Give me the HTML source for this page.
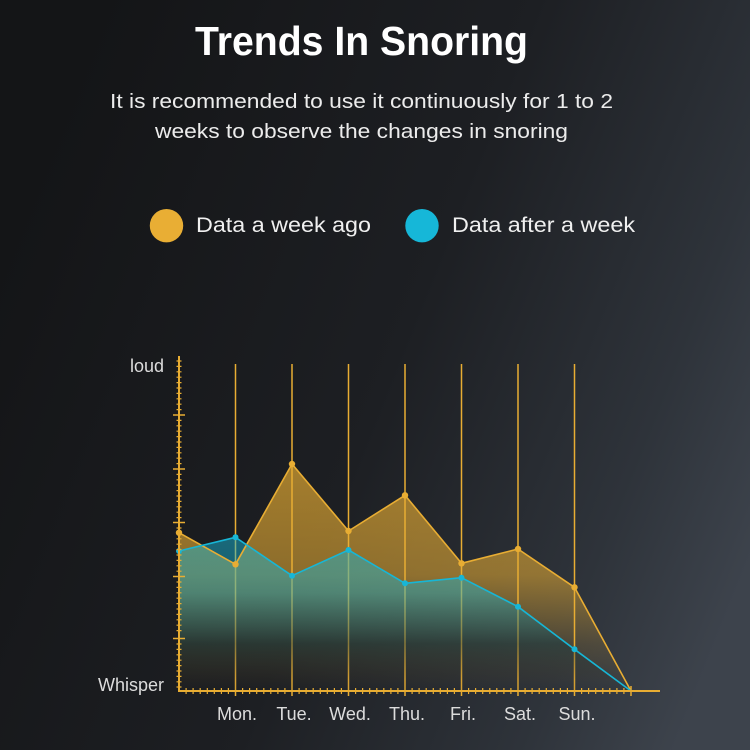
<!DOCTYPE html>
<html>
<head>
<meta charset="utf-8">
<style>
html,body{margin:0;padding:0;background:#1a1b1e;}
svg{display:block;}
text{font-family:"Liberation Sans",sans-serif;}
</style>
</head>
<body>
<svg width="750" height="750" viewBox="0 0 750 750" xmlns="http://www.w3.org/2000/svg">
<defs>
  <linearGradient id="bg" x1="0" y1="0.35" x2="1" y2="0.75">
    <stop offset="0" stop-color="#141517"/>
    <stop offset="0.5" stop-color="#1d1f23"/>
    <stop offset="0.82" stop-color="#2e333a"/>
    <stop offset="1" stop-color="#3d434c"/>
  </linearGradient>
  <linearGradient id="og" gradientUnits="userSpaceOnUse" x1="0" y1="460" x2="0" y2="690">
    <stop offset="0" stop-color="#e8ad33" stop-opacity="0.68"/>
    <stop offset="0.5" stop-color="#e8ad33" stop-opacity="0.55"/>
    <stop offset="0.8" stop-color="#e8ad33" stop-opacity="0.16"/>
    <stop offset="1" stop-color="#e8ad33" stop-opacity="0"/>
  </linearGradient>
  <linearGradient id="tg" gradientUnits="userSpaceOnUse" x1="0" y1="535" x2="0" y2="680">
    <stop offset="0" stop-color="#17b6d6" stop-opacity="0.5"/>
    <stop offset="0.4" stop-color="#17b6d6" stop-opacity="0.42"/>
    <stop offset="0.75" stop-color="#123a44" stop-opacity="0.45"/>
    <stop offset="1" stop-color="#1e2428" stop-opacity="0.1"/>
  </linearGradient>
</defs>
<rect x="0" y="0" width="750" height="750" fill="url(#bg)"/>

<text x="195" y="55" font-size="41" font-weight="bold" fill="#ffffff" textLength="333" lengthAdjust="spacingAndGlyphs">Trends In Snoring</text>
<text x="110" y="108" font-size="20.5" fill="#ececec" textLength="503" lengthAdjust="spacingAndGlyphs">It is recommended to use it continuously for 1 to 2</text>
<text x="155" y="138" font-size="20.5" fill="#ececec" textLength="413" lengthAdjust="spacingAndGlyphs">weeks to observe the changes in snoring</text>

<circle cx="166.5" cy="225.7" r="16.7" fill="#e9ae34"/>
<text x="196" y="232" font-size="21" fill="#f0f0f0" textLength="175" lengthAdjust="spacingAndGlyphs">Data a week ago</text>
<circle cx="422" cy="225.7" r="16.7" fill="#16b7d8"/>
<text x="452" y="232" font-size="21" fill="#f0f0f0" textLength="183" lengthAdjust="spacingAndGlyphs">Data after a week</text>

<g stroke="#e8ad33" stroke-width="1.5">
  <line x1="235.5" y1="364" x2="235.5" y2="696"/>
  <line x1="292" y1="364" x2="292" y2="696"/>
  <line x1="348.5" y1="364" x2="348.5" y2="696"/>
  <line x1="405" y1="364" x2="405" y2="696"/>
  <line x1="461.5" y1="364" x2="461.5" y2="696"/>
  <line x1="518" y1="364" x2="518" y2="696"/>
  <line x1="574.5" y1="364" x2="574.5" y2="696"/>
  <line x1="631" y1="686" x2="631" y2="696"/>
</g>

<polygon fill="url(#og)" points="179,691 179,532.7 235.5,564.3 292,464 348.5,531 405,495.3 461.5,563.3 518,549 574.5,587.3 631,691"/>
<polygon fill="url(#tg)" points="179,691 179,551 235.5,537.3 292,575.7 348.5,550 405,583.3 461.5,577.7 518,606.7 574.5,649.3 631,691"/>

<polyline fill="none" stroke="#e8ad33" stroke-width="1.6" stroke-linejoin="round" points="179,532.7 235.5,564.3 292,464 348.5,531 405,495.3 461.5,563.3 518,549 574.5,587.3 631,691"/>
<polyline fill="none" stroke="#17b6d6" stroke-width="1.6" stroke-linejoin="round" points="179,551 235.5,537.3 292,575.7 348.5,550 405,583.3 461.5,577.7 518,606.7 574.5,649.3 631,691"/>
<g fill="#e8ad33">
  <circle cx="179" cy="532.7" r="3.2"/>
  <circle cx="235.5" cy="564.3" r="3.2"/>
  <circle cx="292" cy="464" r="3.2"/>
  <circle cx="348.5" cy="531" r="3.2"/>
  <circle cx="405" cy="495.3" r="3.2"/>
  <circle cx="461.5" cy="563.3" r="3.2"/>
  <circle cx="518" cy="549" r="3.2"/>
  <circle cx="574.5" cy="587.3" r="3.2"/>
</g>
<g fill="#17b6d6">
  <circle cx="179" cy="551" r="3"/>
  <circle cx="235.5" cy="537.3" r="3"/>
  <circle cx="292" cy="575.7" r="3"/>
  <circle cx="348.5" cy="550" r="3"/>
  <circle cx="405" cy="583.3" r="3"/>
  <circle cx="461.5" cy="577.7" r="3"/>
  <circle cx="518" cy="606.7" r="3"/>
  <circle cx="574.5" cy="649.3" r="3"/>
</g>

<g stroke="#e8ad33">
  <line x1="179" y1="356" x2="179" y2="692" stroke-width="2"/>
  <line x1="178" y1="691" x2="660" y2="691" stroke-width="2"/>
  <path stroke-width="1.2" d="M176.5 361h5M176.5 366.4h5M176.5 371.8h5M176.5 377.2h5M176.5 382.6h5M176.5 388h5M176.5 393.4h5M176.5 398.8h5M176.5 404.2h5M176.5 409.6h5M176.5 420.4h5M176.5 425.8h5M176.5 431.2h5M176.5 436.6h5M176.5 442h5M176.5 447.4h5M176.5 452.8h5M176.5 458.2h5M176.5 463.6h5M176.5 474.4h5M176.5 479.8h5M176.5 485.2h5M176.5 490.6h5M176.5 496h5M176.5 501.4h5M176.5 506.8h5M176.5 512.2h5M176.5 517.6h5M176.5 528h5M176.5 533.4h5M176.5 538.8h5M176.5 544.2h5M176.5 549.6h5M176.5 555h5M176.5 560.4h5M176.5 565.8h5M176.5 571.2h5M176.5 582h5M176.5 587.4h5M176.5 592.8h5M176.5 598.2h5M176.5 603.6h5M176.5 609h5M176.5 614.4h5M176.5 619.8h5M176.5 625.2h5M176.5 630.6h5M176.5 644h5M176.5 649.4h5M176.5 654.8h5M176.5 660.2h5M176.5 665.6h5M176.5 671h5M176.5 676.4h5M176.5 681.8h5M176.5 687h5"/>
  <path stroke-width="1.5" d="M173 415h12M173 469h12M173 522.5h12M173 576.5h12M173 638.5h12"/>
  <path stroke-width="1.2" d="M186.1 688v6M193.1 688v6M200.2 688v6M207.3 688v6M214.3 688v6M221.4 688v6M228.4 688v6M242.6 688v6M249.6 688v6M256.7 688v6M263.8 688v6M270.8 688v6M277.9 688v6M284.9 688v6M299.1 688v6M306.1 688v6M313.2 688v6M320.3 688v6M327.3 688v6M334.4 688v6M341.4 688v6M355.6 688v6M362.6 688v6M369.7 688v6M376.8 688v6M383.8 688v6M390.9 688v6M397.9 688v6M412.1 688v6M419.1 688v6M426.2 688v6M433.3 688v6M440.3 688v6M447.4 688v6M454.4 688v6M468.6 688v6M475.6 688v6M482.7 688v6M489.8 688v6M496.8 688v6M503.9 688v6M510.9 688v6M525.1 688v6M532.1 688v6M539.2 688v6M546.3 688v6M553.3 688v6M560.4 688v6M567.4 688v6M581.6 688v6M588.6 688v6M595.7 688v6M602.8 688v6M609.8 688v6M616.9 688v6M623.9 688v6"/>
</g>

<g fill="#dcdcdc" font-size="18">
  <text x="164" y="372" text-anchor="end">loud</text>
  <text x="164" y="691" text-anchor="end">Whisper</text>
  <text x="237" y="720" text-anchor="middle">Mon.</text>
  <text x="294" y="720" text-anchor="middle">Tue.</text>
  <text x="350" y="720" text-anchor="middle">Wed.</text>
  <text x="407" y="720" text-anchor="middle">Thu.</text>
  <text x="463" y="720" text-anchor="middle">Fri.</text>
  <text x="520" y="720" text-anchor="middle">Sat.</text>
  <text x="577" y="720" text-anchor="middle">Sun.</text>
</g>
</svg>
</body>
</html>
